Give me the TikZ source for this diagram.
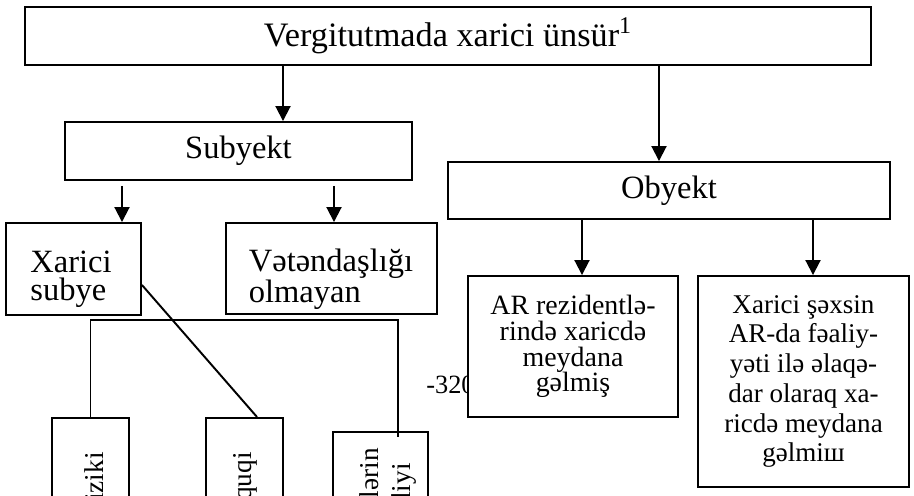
\documentclass[tikz,border=0pt]{standalone}
\usepackage{fontspec}
\setmainfont{Liberation Serif}
\usetikzlibrary{arrows.meta, calc, positioning}

\tikzset{
  box/.style={draw, line width=1.1pt, fill=white, inner sep=0pt},
  arr/.style={line width=1.1pt, -{Triangle[width=0.3cm, length=0.3cm]}},
  plainline/.style={line width=1.1pt},
  bigtext/.style={font=\fontsize{18.5}{16.2}\selectfont, inner sep=0pt},
  smalltext/.style={font=\fontsize{15.9}{14.7}\selectfont, align=center, inner sep=0pt},
  rottext/.style={font=\fontsize{15.5}{18}\selectfont, rotate=90, anchor=east, inner sep=0pt},
}

\begin{document}
\begin{tikzpicture}[x=0.02cm, y=-0.02cm]
  \clip (0,0) rectangle (914,496);

  % top level
  \node[box, bigtext, font=\fontsize{19.5}{16}\selectfont, minimum width=16.92cm, minimum height=1.16cm] (unsur) at (448,36) {Vergitutmada xarici ünsür\textsuperscript{1}};
  \node[box, bigtext, minimum width=6.94cm, minimum height=1.16cm] (subyekt) at (238.5,151) {Subyekt};
  \node[box, bigtext, minimum width=8.84cm, minimum height=1.14cm] (obyekt) at (669,190.5) {Obyekt};

  % subyekt side
  \node[box, minimum width=2.7cm, minimum height=1.84cm] (xarici) at (73.5,269) {};
  \node[bigtext, align=left] (xaricitext) at (71,279) {Xarici\\subye};
  \node[box, minimum width=4.22cm, minimum height=1.82cm] (vetendas) at (331.5,268.5) {};
  \node[bigtext, align=left] (vetendastext) at (331,279) {Vətəndaşlığı\\olmayan};

  % page number left over
  \node[font=\fontsize{15}{15}\selectfont, anchor=base west, inner sep=0pt] (page) at (426,394) {-320};

  % obyekt side
  \node[box, smalltext, minimum width=4.2cm, minimum height=2.82cm] (rezident) at (573,346.5) {AR rezidentlə-\\rində xaricdə\\meydana\\gəlmiş};
  \node[box, smalltext, font=\fontsize{15.4}{16.9}\selectfont, minimum width=4.22cm, minimum height=4.22cm] (xarici2) at (803.5,381.5) {Xarici şəxsin\\AR-da fəaliy-\\yəti ilə əlaqə-\\dar olaraq xa-\\ricdə meydana\\gəlmiш};

  % bottom boxes
  \node[box, anchor=north, minimum width=1.54cm, minimum height=2.9cm] (fiziki) at (90.5,417) {};
  \node[rottext] (fizikitext) at (94,452) {Fiziki};
  \node[box, anchor=north, minimum width=1.54cm, minimum height=3cm] (huquqi) at (244.5,417) {};
  \node[rottext] (huquqitext) at (245,452) {Hüquqi};
  \node[box, anchor=north, minimum width=1.9cm, minimum height=2.5cm] (dovlet) at (380.5,431) {};
  \node[rottext, align=right] (dovlettext) at (388,448) {Dövlətlərin\\nümayəndəliyi\kern 0.3cm};

  % arrows
  \coordinate (a1) at ($(subyekt.north)+(44.5,0)$);
  \coordinate (a2) at ($(obyekt.north)+(-10,0)$);
  \draw[arr] (a1 |- unsur.south) -- (a1);
  \draw[arr] (a2 |- unsur.south) -- (a2);

  \coordinate (s1) at ($(xarici.north)+(48.5,0)$);
  \coordinate (s2) at ($(vetendas.north)+(2.5,0)$);
  \draw[arr] ($(s1 |- subyekt.south)+(0,5)$) -- (s1);
  \draw[arr] ($(s2 |- subyekt.south)+(0,5)$) -- (s2);

  \coordinate (o1) at ($(rezident.north)+(9,0)$);
  \coordinate (o2) at ($(xarici2.north)+(9.5,0)$);
  \draw[arr] (o1 |- obyekt.south) -- (o1);
  \draw[arr] (o2 |- obyekt.south) -- (o2);

  % lines to the bottom boxes
  \coordinate (bar) at (398,320);
  \coordinate (c3) at (398,437);
  \draw[plainline] (fiziki.north) |- (bar) -- (c3);
  \draw[plainline] ([yshift=-0.32cm]xarici.east) -- ([xshift=0.25cm]huquqi.north);
\end{tikzpicture}
\end{document}
